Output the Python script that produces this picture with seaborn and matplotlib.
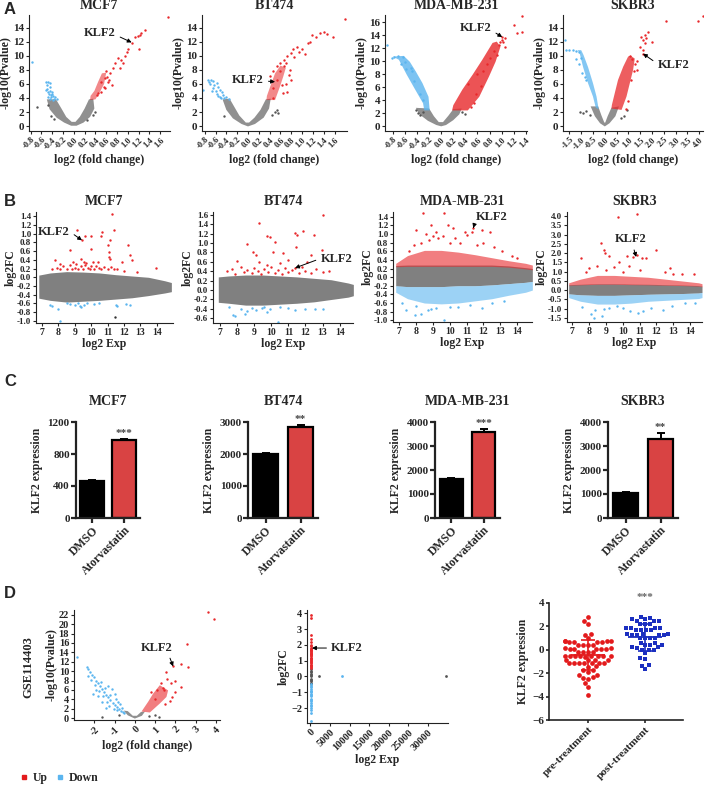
import numpy as np
import pandas as pd
import matplotlib
matplotlib.use('Agg')
import matplotlib.pyplot as plt
import seaborn as sns
from matplotlib.lines import Line2D

W, H = 708, 786
RED = '#e8282b'
BLUE = '#5bb5ef'
GREY = '#555555'
SERIF = ['Liberation Serif', 'DejaVu Serif']

# ---------------- A: volcano plots (log2FC, -log10 P) ----------------
a_titles = ['MCF7', 'BT474', 'MDA-MB-231', 'SKBR3']

mcf7_v_grey_band = [(-0.50, 3.8), (-0.45, 2.4), (-0.32, 1.2), (-0.18, 0.5), (-0.05, 0.05), (0.05, 0.05),
                    (0.18, 0.5), (0.30, 1.3), (0.38, 2.5), (0.36, 3.9), (0.28, 3.8), (0.20, 2.5), (0.11, 1.3),
                    (0.03, 0.6), (-0.04, 0.6), (-0.14, 1.3), (-0.23, 2.5), (-0.33, 3.8)]
mcf7_v_grey = [(-0.69, 2.67), (0.40, 2.0), (0.35, 1.6), (-0.42, 1.5), (-0.36, 1.0), (0.25, 0.8), (-0.48, 3.0)]
mcf7_v_up_band = [(0.30, 3.7), (0.40, 3.8), (0.48, 4.8), (0.56, 6.0), (0.60, 7.6), (0.52, 7.5), (0.45, 6.3),
                  (0.38, 5.0), (0.31, 4.3)]
mcf7_v_up = [(1.75, 15.5), (1.07, 11.8), (1.13, 12.6), (1.19, 12.8), (1.22, 13.0), (1.25, 13.2), (1.31, 13.6),
             (1.21, 10.9), (0.98, 10.6), (1.00, 10.9), (0.94, 9.9), (0.88, 9.4), (0.91, 9.0), (0.82, 9.7),
             (0.76, 9.0), (0.73, 8.2), (0.86, 8.2), (0.67, 7.5), (0.60, 7.8), (0.57, 6.8), (0.64, 6.3),
             (0.70, 5.9), (0.62, 7.0), (0.55, 5.6), (0.50, 6.2), (0.45, 4.7), (0.42, 4.4), (0.51, 4.9),
             (0.57, 5.4), (0.66, 6.6)]
mcf7_v_down = [(-0.78, 9.05), (-0.51, 6.3), (-0.48, 6.2), (-0.44, 6.1), (-0.50, 5.9), (-0.52, 5.1), (-0.48, 4.9),
               (-0.41, 4.9), (-0.45, 5.0), (-0.38, 4.3), (-0.35, 4.1), (-0.42, 4.1), (-0.32, 3.8), (-0.46, 4.5),
               (-0.40, 4.6), (-0.36, 3.9), (-0.44, 3.9), (-0.38, 3.75), (-0.47, 4.2), (-0.43, 4.4),
               (-0.50, 5.3), (-0.45, 5.6)]

bt474_v_grey_band = [(-0.47, 3.8), (-0.40, 2.3), (-0.28, 1.1), (-0.12, 0.3), (0.0, -0.05), (0.13, 0.3),
                     (0.29, 1.2), (0.39, 2.5), (0.42, 3.9), (0.33, 3.8), (0.23, 2.3), (0.12, 1.2), (0.02, 0.5),
                     (-0.04, 0.5), (-0.16, 1.5), (-0.25, 2.7), (-0.34, 3.9)]
bt474_v_grey = [(0.53, 2.3), (0.55, 1.8), (0.45, 1.6), (0.50, 2.0), (-0.45, 1.4)]
bt474_v_up_band = [(0.34, 3.7), (0.50, 3.7), (0.59, 5.6), (0.65, 7.0), (0.70, 8.3), (0.60, 8.6), (0.50, 7.5),
                   (0.41, 5.6), (0.35, 4.3)]
bt474_v_up = [(1.80, 15.3), (1.33, 13.3), (1.18, 13.0), (1.26, 12.7), (1.57, 12.7), (1.40, 13.4), (1.46, 13.1),
              (1.15, 12.0), (1.10, 11.8), (0.90, 11.3), (0.84, 10.9), (0.79, 10.4), (0.72, 9.9), (0.66, 9.4),
              (0.59, 9.0), (0.53, 8.5), (0.66, 8.5), (0.70, 9.0), (0.47, 7.8), (0.59, 7.8), (0.41, 7.1),
              (0.53, 6.6), (0.62, 5.9), (0.47, 5.4), (0.65, 4.7), (0.47, 4.0), (0.75, 7.3), (0.78, 8.0),
              (0.85, 9.8), (0.95, 10.5), (1.00, 11.0), (0.70, 6.0), (0.73, 4.9), (0.80, 6.6), (1.05, 10.2)]
bt474_v_down = [(-0.74, 6.6), (-0.64, 6.4), (-0.58, 6.1), (-0.83, 5.1), (-0.64, 5.4), (-0.52, 5.1), (-0.58, 4.6),
                (-0.46, 4.4), (-0.40, 4.1), (-0.52, 4.1), (-0.35, 3.9), (-0.70, 6.0), (-0.62, 5.8), (-0.55, 5.5),
                (-0.48, 4.8), (-0.44, 3.95), (-0.66, 5.0), (-0.60, 5.0), (-0.56, 4.3), (-0.49, 4.0),
                (-0.72, 6.3), (-0.68, 6.5)]

mda_v_grey_band = [(-0.42, 2.8), (-0.36, 1.8), (-0.22, 0.8), (-0.08, 0.15), (0.0, -0.05), (0.08, 0.15),
                   (0.20, 0.9), (0.30, 1.8), (0.34, 2.7), (0.20, 2.6), (0.12, 1.6), (0.03, 0.6), (-0.04, 0.6),
                   (-0.12, 1.5), (-0.20, 2.7)]
mda_v_grey = [(-0.42, 2.4), (-0.35, 1.7), (-0.30, 2.2), (-0.38, 2.0), (0.35, 2.2), (0.40, 1.9)]
mda_v_up_band = [(0.18, 2.4), (0.44, 2.4), (0.63, 4.5), (0.79, 7.6), (0.90, 9.9), (0.98, 12.2), (0.92, 13.0),
                 (0.85, 12.8), (0.68, 10.2), (0.52, 7.9), (0.35, 5.6), (0.20, 3.2)]
mda_v_up = [(1.34, 16.9), (1.21, 15.5), (1.26, 14.3), (1.34, 14.5), (1.01, 13.7), (1.00, 13.3), (1.03, 13.0),
            (0.98, 12.9), (1.05, 13.5), (0.95, 12.5), (1.06, 12.2), (0.88, 11.5), (0.93, 11.0), (0.75, 9.5),
            (0.80, 10.5), (0.60, 8.0), (0.70, 8.5), (0.45, 6.5), (0.58, 5.0), (0.66, 6.2), (0.50, 3.0),
            (0.55, 3.5)]
mda_v_down_band = [(-0.80, 10.7), (-0.70, 10.2), (-0.57, 7.9), (-0.43, 5.6), (-0.30, 3.5), (-0.28, 2.4),
                   (-0.19, 2.4), (-0.21, 4.5), (-0.31, 6.6), (-0.42, 8.4), (-0.52, 9.9), (-0.62, 10.8)]
mda_v_down = [(-0.90, 12.5), (-0.78, 10.7), (-0.82, 10.5), (-0.72, 10.8), (-0.64, 10.6), (-0.60, 9.9),
              (-0.50, 9.0), (-0.48, 8.5), (-0.66, 9.6), (-0.58, 8.8), (-0.45, 7.0), (-0.35, 5.0), (-0.30, 4.0)]

skbr3_v_grey_band = [(-0.60, 2.8), (-0.42, 1.4), (-0.20, 0.4), (0.0, -0.05), (0.20, 0.4), (0.45, 1.4),
                     (0.60, 2.8), (0.28, 2.6), (0.12, 1.4), (0.02, 0.5), (-0.02, 0.5), (-0.14, 1.5), (-0.28, 2.8)]
skbr3_v_grey = [(-1.06, 2.0), (-0.92, 1.8), (-0.64, 1.6), (-0.78, 2.2), (0.92, 2.3), (0.80, 1.5), (0.70, 1.2)]
skbr3_v_up_band = [(0.28, 2.5), (0.71, 2.3), (0.92, 4.2), (1.06, 6.1), (1.20, 8.0), (1.27, 9.6), (1.10, 10.0),
                   (0.99, 9.9), (0.78, 8.45), (0.56, 6.55), (0.42, 4.65), (0.30, 3.0)]
skbr3_v_up = [(4.15, 15.6), (3.95, 15.0), (2.61, 14.9), (1.62, 10.3), (1.55, 12.7), (1.60, 12.2), (1.69, 11.8),
              (1.76, 12.5), (1.84, 13.4), (1.69, 13.0), (1.98, 12.0), (1.48, 11.3), (1.61, 10.8), (1.38, 9.3),
              (1.30, 8.9), (1.15, 9.6), (1.08, 9.9), (1.25, 7.9), (1.35, 8.0), (1.10, 6.5), (0.90, 2.5),
              (1.00, 3.5)]
skbr3_v_down_band = [(-1.15, 10.8), (-1.06, 10.3), (-0.92, 8.4), (-0.71, 6.1), (-0.50, 4.2), (-0.38, 2.6),
                     (-0.26, 2.4), (-0.35, 4.2), (-0.50, 6.1), (-0.71, 8.4), (-0.90, 10.1), (-1.00, 10.8)]
skbr3_v_down = [(-1.69, 12.2), (-1.65, 10.8), (-1.50, 10.8), (-1.35, 10.8), (-1.20, 10.7), (-1.10, 10.5),
                (-1.00, 9.7), (-1.20, 9.5), (-1.10, 8.8), (-0.95, 7.6), (-0.80, 6.5), (-0.85, 7.0)]

a_xticks = [[-0.8, -0.6, -0.4, -0.2, 0.0, 0.2, 0.4, 0.6, 0.8, 1.0, 1.2, 1.4, 1.6],
            [-0.8, -0.6, -0.4, -0.2, 0.0, 0.2, 0.4, 0.6, 0.8, 1.0, 1.2, 1.4, 1.6],
            [-0.8, -0.6, -0.4, -0.2, 0.0, 0.2, 0.4, 0.6, 0.8, 1.0, 1.2, 1.4],
            [-1.5, -1.0, -0.5, 0.0, 0.5, 1.0, 1.5, 2.0, 2.5, 3.0, 3.5, 4.0]]
a_yticks = [list(range(0, 15, 2)), list(range(0, 15, 2)), list(range(0, 17, 2)), list(range(0, 15, 2))]
a_xlim = [(-0.83, 1.78), (-0.85, 1.83), (-0.93, 1.42), (-1.77, 4.16)]
a_ylim = [(-0.7, 15.8), (-0.7, 15.8), (-0.77, 17.1), (-0.7, 15.8)]
a_klf2_text = [(0.48, 13.3), (0.0, 6.6), (0.57, 15.1), (2.9, 8.7)]
a_klf2_point = [(1.07, 11.9), (0.50, 6.3), (1.01, 13.7), (1.62, 10.3)]
a_band_alpha = [0.55, 0.55, 0.8, 0.75]

# ---------------- B: MA plots (log2 Exp, log2FC) ----------------
mcf7_ma_x = [6.8, 7.5, 8.5, 9.5, 10.5, 11.5, 12.5, 13.5, 14.5, 14.9]
mcf7_ma_top = [0.05, 0.10, 0.13, 0.12, 0.10, 0.06, 0.03, 0.0, -0.08, -0.12]
mcf7_ma_bottom = [-0.48, -0.53, -0.57, -0.55, -0.53, -0.50, -0.47, -0.42, -0.36, -0.33]
mcf7_ma_up = [(11.27, 1.46), (9.13, 1.08), (9.64, 0.96), (10.0, 0.96), (10.66, 1.04), (10.6, 0.96),
              (11.37, 1.08), (11.17, 0.85), (12.28, 0.74), (8.73, 0.62), (10.0, 0.66), (11.04, 0.74),
              (11.07, 0.58), (11.1, 0.47), (11.17, 0.43), (10.4, 0.36), (12.37, 0.51), (12.5, 0.39),
              (13.97, 0.22), (7.81, 0.39), (8.1, 0.31), (9.35, 0.43), (9.55, 0.36), (11.57, 0.2), (11.87, 0.36),
              (9.44, 0.85), (7.6, 0.2), (7.9, 0.22), (8.1, 0.18), (8.3, 0.25), (8.5, 0.2), (8.7, 0.28),
              (8.8, 0.18), (9.0, 0.22), (9.1, 0.3), (9.2, 0.19), (9.4, 0.25), (9.5, 0.2), (9.6, 0.28),
              (9.8, 0.22), (9.9, 0.18), (10.0, 0.25), (10.2, 0.2), (10.3, 0.27), (10.5, 0.22), (10.6, 0.18),
              (10.8, 0.24), (11.0, 0.2), (11.2, 0.23), (11.4, 0.18), (8.9, 0.35), (9.7, 0.33), (10.1, 0.34),
              (12.0, 0.15), (12.8, 0.12)]
mcf7_ma_down = [(7.5, -0.64), (7.6, -0.66), (8.0, -0.73), (8.1, -1.0), (8.5, -0.6), (9.0, -0.63), (9.33, -0.66),
                (9.4, -0.69), (9.2, -0.6), (9.75, -0.6), (10.15, -0.62), (11.5, -0.63), (11.6, -0.67),
                (12.1, -0.61), (12.4, -0.64), (8.7, -0.62), (9.55, -0.64), (10.5, -0.6)]
mcf7_ma_grey = [(11.47, -0.91)]

bt474_ma_x = [6.9, 7.5, 8.5, 9.5, 10.5, 11.5, 12.5, 13.5, 14.5, 14.8]
bt474_ma_top = [0.28, 0.30, 0.32, 0.32, 0.30, 0.28, 0.25, 0.22, 0.15, 0.12]
bt474_ma_bottom = [-0.26, -0.28, -0.32, -0.32, -0.30, -0.28, -0.25, -0.20, -0.15, -0.12]
bt474_ma_up = [(13.0, 1.6), (9.3, 1.43), (9.73, 1.16), (9.9, 1.13), (10.23, 1.02), (8.56, 0.99), (11.39, 1.21),
               (11.5, 1.17), (11.84, 1.25), (12.51, 1.18), (12.94, 0.85), (11.44, 0.92), (12.33, 0.74),
               (8.95, 0.82), (9.1, 0.74), (10.12, 0.82), (9.73, 0.53), (10.7, 0.78), (11.39, 0.47),
               (7.4, 0.4), (7.7, 0.45), (7.9, 0.35), (8.2, 0.5), (8.4, 0.38), (8.6, 0.42), (8.9, 0.36),
               (9.0, 0.48), (9.2, 0.4), (9.4, 0.35), (9.6, 0.44), (9.8, 0.38), (10.0, 0.5), (10.2, 0.36),
               (10.4, 0.42), (10.6, 0.35), (10.8, 0.46), (11.0, 0.38), (11.2, 0.42), (11.6, 0.36), (11.8, 0.5),
               (12.0, 0.4), (12.3, 0.36), (12.6, 0.45), (13.0, 0.38), (13.4, 0.4), (9.3, 0.6), (10.5, 0.58),
               (8.0, 0.62), (11.0, 0.63), (12.1, 0.6)]
bt474_ma_down = [(7.78, -0.53), (7.9, -0.55), (8.46, -0.51), (8.85, -0.39), (9.1, -0.42), (9.44, -0.39),
                 (9.73, -0.46), (9.9, -0.4), (10.51, -0.36), (10.4, -0.67), (11.4, -0.42), (12.0, -0.4),
                 (12.56, -0.4), (8.2, -0.4), (8.6, -0.45), (7.5, -0.36), (9.6, -0.35), (11.0, -0.38),
                 (13.0, -0.4)]
bt474_ma_grey = []

mda_ma_x = [6.8, 7.5, 8.5, 9.5, 10.5, 11.5, 12.5, 13.5, 14.5, 14.9]
mda_ma_top = [0.27, 0.28, 0.28, 0.28, 0.28, 0.28, 0.28, 0.26, 0.22, 0.20]
mda_ma_bottom = [-0.20, -0.22, -0.22, -0.22, -0.20, -0.20, -0.18, -0.15, -0.12, -0.10]
mda_ma_up_edge = [0.32, 0.50, 0.62, 0.62, 0.58, 0.52, 0.45, 0.38, 0.32, 0.28]
mda_ma_down_edge = [-0.35, -0.50, -0.60, -0.62, -0.60, -0.55, -0.50, -0.42, -0.35, -0.30]
mda_ma_up = [(8.43, 1.48), (9.68, 1.48), (9.88, 1.21), (11.0, 0.97), (11.3, 1.05), (11.9, 1.1), (12.4, 1.05),
             (10.9, 1.05), (11.4, 1.14), (8.0, 1.1), (8.6, 1.0), (9.0, 0.95), (9.3, 0.9), (8.8, 0.85),
             (9.6, 0.95), (10.3, 0.9), (10.6, 0.8), (8.3, 0.8), (7.9, 0.75), (12.0, 0.8), (12.6, 0.7),
             (13.1, 0.6), (13.7, 0.5), (14.0, 0.45), (7.6, 0.6), (10.0, 0.78), (11.6, 0.75), (9.2, 1.05),
             (8.9, 1.2), (10.2, 1.15)]
mda_ma_down = [(7.44, -0.77), (8.73, -0.77), (8.9, -0.75), (7.93, -0.88), (8.3, -0.86), (9.64, -1.0),
               (11.9, -0.72), (10.5, -0.7), (9.2, -0.72), (12.5, -0.6), (13.2, -0.55), (7.2, -0.6), (8.0, -0.68),
               (10.0, -0.7), (11.2, -0.65)]

skbr3_ma_x = [6.8, 7.5, 8.5, 9.5, 10.5, 11.5, 12.5, 13.5, 14.5, 14.7]
skbr3_ma_top = [0.30, 0.32, 0.35, 0.35, 0.33, 0.32, 0.30, 0.28, 0.25, 0.22]
skbr3_ma_bottom = [-0.20, -0.25, -0.28, -0.28, -0.25, -0.22, -0.20, -0.18, -0.15, -0.12]
skbr3_ma_up_edge = [0.40, 0.60, 0.80, 0.80, 0.75, 0.70, 0.60, 0.50, 0.40, 0.35]
skbr3_ma_down_edge = [-0.40, -0.60, -0.75, -0.75, -0.70, -0.60, -0.55, -0.50, -0.45, -0.40]
skbr3_ma_up = [(9.72, 3.96), (10.84, 4.1), (8.72, 2.58), (8.87, 2.17), (8.95, 2.0), (9.2, 1.84), (7.5, 1.73),
               (10.25, 1.84), (10.84, 1.93), (11.13, 1.72), (11.4, 1.72), (12.0, 2.17), (10.6, 1.8),
               (8.0, 1.2), (8.5, 1.3), (9.0, 1.1), (9.5, 1.25), (10.0, 1.0), (11.0, 1.1), (12.5, 1.0),
               (13.0, 0.9), (13.5, 0.85), (14.2, 0.9), (7.8, 1.0), (9.8, 1.5), (12.8, 1.2), (10.4, 1.3)]
skbr3_ma_down = [(8.28, -1.5), (8.1, -1.3), (8.37, -1.05), (8.9, -1.0), (9.65, -0.86), (10.43, -1.15),
                 (10.9, -1.24), (11.2, -1.1), (11.7, -0.97), (12.4, -1.05), (13.68, -0.68), (8.8, -1.4),
                 (7.6, -0.9), (9.2, -0.95), (10.0, -0.95), (12.9, -0.85), (14.3, -0.7)]

b_yticks = [[-1.0, -0.8, -0.6, -0.4, -0.2, 0.0, 0.2, 0.4, 0.6, 0.8, 1.0, 1.2, 1.4],
            [-0.6, -0.4, -0.2, 0.0, 0.2, 0.4, 0.6, 0.8, 1.0, 1.2, 1.4, 1.6],
            [-1.0, -0.8, -0.6, -0.4, -0.2, 0.0, 0.2, 0.4, 0.6, 0.8, 1.0, 1.2, 1.4],
            [-1.5, -1.0, -0.5, 0.0, 0.5, 1.0, 1.5, 2.0, 2.5, 3.0, 3.5, 4.0]]
b_xticks = [7, 8, 9, 10, 11, 12, 13, 14]
b_xlim = [(6.63, 15.0), (6.59, 14.78), (6.64, 14.88), (6.7, 14.7)]
b_ylim = [(-1.05, 1.5), (-0.7, 1.66), (-1.04, 1.51), (-1.72, 4.23)]
b_klf2_text = [(6.75, 1.05), (13.8, 0.67), (12.5, 1.4), (10.5, 2.75)]
b_klf2_point = [(9.44, 0.85), (11.39, 0.47), (11.4, 1.14), (10.8, 1.8)]

# ---------------- C: KLF2 expression bars ----------------
c_groups = ['DMSO', 'Atorvastatin']
c_mean = [[460, 975], [2000, 2840], [1620, 3590], [1040, 3280]]
c_err = [[12, 12], [30, 60], [40, 100], [30, 260]]
c_stars = ['***', '**', '***', '**']
c_yticks = [[0, 400, 800, 1200], [0, 1000, 2000, 3000], [0, 1000, 2000, 3000, 4000], [0, 1000, 2000, 3000, 4000]]

# ---------------- D: GSE114403 ----------------
gse_v_grey_band = [(-0.55, 1.6), (-0.35, 0.6), (0.0, -0.1), (0.35, 0.5), (0.50, 1.4), (0.30, 1.3), (0.10, 0.5),
                   (-0.10, 0.5), (-0.35, 1.5)]
gse_v_grey = [(-1.64, 0.34), (0.98, 0.7), (1.2, 0.3), (-0.8, 0.6), (0.7, 0.4)]
gse_v_up_band = [(0.33, 1.4), (0.74, 1.2), (1.23, 3.1), (1.56, 4.5), (1.64, 5.9), (1.23, 7.0), (0.90, 5.2),
                 (0.66, 3.5)]
gse_v_up = [(3.61, 22.5), (3.91, 21.1), (2.55, 15.7), (2.3, 11.5), (2.63, 10.8), (1.89, 11.0), (1.55, 9.8),
            (2.3, 6.6), (1.97, 8.0), (1.6, 8.4), (1.8, 7.5), (1.72, 3.7), (1.4, 6.5), (1.1, 6.0), (1.3, 7.5),
            (1.85, 4.5), (2.0, 5.5), (1.5, 3.0), (1.45, 6.0), (0.8, 5.5), (1.0, 4.0)]
gse_v_down = [(-2.87, 13.1), (-2.38, 10.8), (-2.30, 10.4), (-2.20, 9.8), (-2.10, 9.2), (-2.0, 8.8), (-2.15, 8.2),
              (-1.9, 8.0), (-1.8, 7.4), (-1.95, 7.0), (-1.7, 6.8), (-1.6, 6.2), (-1.75, 5.8), (-1.5, 5.6),
              (-1.4, 5.0), (-1.55, 4.6), (-1.3, 4.4), (-1.2, 3.8), (-1.35, 3.4), (-1.1, 3.2), (-1.0, 2.8),
              (-0.9, 2.4), (-1.05, 2.0), (-0.8, 2.0), (-0.7, 1.6), (-0.6, 1.4), (-0.55, 1.1), (-1.6, 3.4),
              (-1.2, 5.0), (-0.95, 4.0), (-1.45, 6.4), (-2.05, 5.2), (-1.8, 4.6), (-0.75, 3.0), (-1.25, 2.6),
              (-0.85, 3.4), (-1.65, 7.6), (-1.15, 6.2), (-2.3, 9.0), (-1.0, 5.2), (-0.65, 2.2), (-1.4, 2.2),
              (-1.9, 6.0), (-1.3, 6.8), (-0.9, 1.8)]

gse_ma_up = [(80, 0.55), (250, 0.7), (150, 0.85), (300, 1.0), (120, 1.1), (200, 1.2), (90, 1.3), (260, 1.4),
             (170, 1.5), (60, 1.6), (220, 1.7), (140, 1.8), (100, 1.9), (280, 2.0), (150, 2.2), (200, 2.4),
             (120, 2.6), (160, 3.7), (180, 3.9), (230, 0.6), (70, 0.9), (240, 1.15), (190, 1.35), (110, 1.55),
             (260, 1.75), (130, 0.75), (60, 1.05), (210, 1.45), (160, 1.65), (90, 0.65)]
gse_ma_grey = [(120, -0.45), (200, -0.3), (90, -0.15), (150, 0.0), (240, 0.15), (100, 0.3), (180, 0.45),
               (60, -0.4), (260, -0.2), (130, 0.1), (210, 0.35), (2100, 0.0), (34700, 0.0)]
gse_ma_down = [(100, -0.5), (220, -0.65), (150, -0.8), (80, -0.95), (250, -1.1), (130, -1.25), (190, -1.4),
               (70, -1.55), (230, -1.7), (110, -1.85), (170, -2.0), (260, -2.15), (140, -2.3), (120, -2.8),
               (200, -0.6), (90, -0.9), (160, -1.2), (240, -1.5), (60, -1.8), (210, -1.0), (8050, 0.0)]

pre_treatment = [2.77, 2.49, 2.20, 1.34, 1.30, 1.00, 0.74, 0.72, 0.70, 0.71, 0.69, 0.73, 0.70, 0.68, 0.45, 0.43,
                 0.40, 0.44, 0.12, 0.10, 0.08, 0.11, 0.09, 0.10, 0.13, -0.18, -0.20, -0.22, -0.19, -0.52, -0.55,
                 -0.57, -0.54, -0.56, -0.53, -0.58, -0.55, -0.51, -0.85, -0.83, -0.88, -0.86, -1.12, -1.14,
                 -1.15, -1.13, -1.16, -1.12, -1.14, -1.43, -1.40, -1.70, -1.72, -1.86, -2.14, -2.12, -2.37,
                 -2.35, -2.49, -2.86, -3.20, -3.86]
post_treatment = [2.77, 2.75, 2.66, 2.64, 2.49, 2.50, 2.47, 2.20, 2.22, 2.18, 1.86, 1.88, 1.85, 1.84, 1.70, 1.72,
                  1.68, 1.71, 1.34, 1.33, 1.35, 1.29, 1.28, 1.30, 1.27, 1.00, 1.02, 0.98, 1.01, 0.57, 0.55, 0.43,
                  0.45, 0.42, 0.20, 0.22, 0.18, 0.00, 0.02, -0.02, -0.29, -0.71, -0.77, -1.34, -1.36, -1.63]
d_groups = ['pre-treatment', 'post-treatment']


# ---------------- helpers ----------------
def px_axes(fig, l, t, r, b):
    return fig.add_axes([l / W, 1 - b / H, (r - l) / W, (b - t) / H])


def style_axes(ax, lw=0.8, size=7):
    sns.despine(ax=ax)
    for s in ('left', 'bottom'):
        ax.spines[s].set_linewidth(lw)
        ax.spines[s].set_color('#222222')
    ax.tick_params(labelsize=size, width=lw, length=2.5, pad=1)
    for lab in ax.get_xticklabels() + ax.get_yticklabels():
        lab.set_fontweight('bold')


def cloud(ax, pts, color, s=3, band=None, alpha=0.6):
    if band:
        bx, by = zip(*band)
        ax.fill(bx, by, color=color, lw=0, alpha=alpha, zorder=1)
    if pts:
        px, py = zip(*pts)
        sns.scatterplot(x=list(px), y=list(py), color=color, s=s, linewidth=0, ax=ax, zorder=2)


def klf2(ax, text_xy, point_xy, relpos, size=9):
    ax.annotate('KLF2', xy=point_xy, xytext=text_xy, ha='center', va='center', fontsize=size,
                fontweight='bold', arrowprops=dict(arrowstyle='-|>', color='black', lw=0.7,
                                                   mutation_scale=6, shrinkA=1, shrinkB=0, relpos=relpos))


sns.set_style('ticks')
plt.rcParams['font.family'] = SERIF
plt.rcParams['font.weight'] = 'bold'
plt.rcParams['axes.labelweight'] = 'bold'
plt.rcParams['axes.titleweight'] = 'bold'

fig = plt.figure(figsize=(W / 100, H / 100), dpi=100)

# ---- row A ----
a_boxes = [(29, 15, 170, 131), (202, 15, 347, 131), (385, 15, 527, 131), (563, 15, 703, 131)]
a_sets = [(mcf7_v_grey_band, mcf7_v_grey, mcf7_v_up_band, mcf7_v_up, None, mcf7_v_down),
          (bt474_v_grey_band, bt474_v_grey, bt474_v_up_band, bt474_v_up, None, bt474_v_down),
          (mda_v_grey_band, mda_v_grey, mda_v_up_band, mda_v_up, mda_v_down_band, mda_v_down),
          (skbr3_v_grey_band, skbr3_v_grey, skbr3_v_up_band, skbr3_v_up, skbr3_v_down_band, skbr3_v_down)]
a_relpos = [(1, 0.3), (1, 0.4), (1, 0.3), (0, 0.6)]
for i, box in enumerate(a_boxes):
    ax = px_axes(fig, *box)
    gb, gp, ub, up, db, dp = a_sets[i]
    al = a_band_alpha[i]
    cloud(ax, gp, GREY, band=gb, alpha=0.65)
    cloud(ax, up, RED, band=ub, alpha=al)
    cloud(ax, dp, BLUE, band=db, alpha=al)
    ax.set_xlim(a_xlim[i])
    ax.set_ylim(a_ylim[i])
    ax.set_xticks(a_xticks[i])
    ax.set_xticklabels([f'{v:.1f}' for v in a_xticks[i]], rotation=45, ha='right', rotation_mode='anchor')
    ax.set_yticks(a_yticks[i])
    style_axes(ax, size=8)
    for lab in ax.get_xticklabels():
        lab.set_fontsize(6)
    ax.set_title(a_titles[i], fontsize=10, pad=4)
    ax.set_xlabel('log2 (fold change)', fontsize=8.5, labelpad=2)
    ax.set_ylabel('-log10(Pvalue)', fontsize=8.5, labelpad=1)
    klf2(ax, a_klf2_text[i], a_klf2_point[i], a_relpos[i])

# ---- row B ----
b_boxes = [(36, 212, 173, 323), (213, 212, 353, 323), (393, 212, 532, 322), (567, 212, 702, 322)]
b_sets = [(mcf7_ma_x, mcf7_ma_bottom, mcf7_ma_top, None, None, mcf7_ma_up, mcf7_ma_down, mcf7_ma_grey),
          (bt474_ma_x, bt474_ma_bottom, bt474_ma_top, None, None, bt474_ma_up, bt474_ma_down, bt474_ma_grey),
          (mda_ma_x, mda_ma_bottom, mda_ma_top, mda_ma_up_edge, mda_ma_down_edge, mda_ma_up, mda_ma_down, []),
          (skbr3_ma_x, skbr3_ma_bottom, skbr3_ma_top, skbr3_ma_up_edge, skbr3_ma_down_edge, skbr3_ma_up,
           skbr3_ma_down, [])]
b_relpos = [(1, 0.5), (0, 0.5), (0, 0.3), (0.55, 0)]
for i, box in enumerate(b_boxes):
    ax = px_axes(fig, *box)
    x, lo, hi, up_edge, dn_edge, up, dn, gp = b_sets[i]
    ax.fill_between(x, lo, hi, color='#6a6a6a', lw=0, alpha=0.85, zorder=1)
    if up_edge:
        ax.fill_between(x, [v - 0.03 for v in hi], up_edge, color=RED, lw=0, alpha=0.6, zorder=1.5)
    if dn_edge:
        ax.fill_between(x, dn_edge, lo, color=BLUE, lw=0, alpha=0.6, zorder=1.5)
    cloud(ax, up, RED)
    cloud(ax, dn, BLUE)
    cloud(ax, gp, '#333333')
    ax.set_xlim(b_xlim[i])
    ax.set_ylim(b_ylim[i])
    ax.set_xticks(b_xticks)
    ax.set_yticks(b_yticks[i])
    ax.set_yticklabels([f'{v:.1f}' for v in b_yticks[i]])
    style_axes(ax, size=7)
    for lab in ax.get_yticklabels():
        lab.set_fontsize(6.5)
    ax.set_title(a_titles[i], fontsize=10, pad=5)
    ax.set_xlabel('log2 Exp', fontsize=8.5, labelpad=1)
    ax.set_ylabel('log2FC', fontsize=8.5, labelpad=0)
    klf2(ax, b_klf2_text[i], b_klf2_point[i], b_relpos[i])
    if i == 0:
        ax.texts[-1].set_ha('left')

# ---- row C ----
c_boxes = [(76, 422, 140, 518), (248, 422, 318, 518), (435, 422, 500, 518), (608, 422, 678, 518)]
for i, box in enumerate(c_boxes):
    ax = px_axes(fig, *box)
    df = pd.DataFrame({'group': c_groups, 'value': c_mean[i]})
    sns.barplot(data=df, x='group', y='value', hue='group', palette=['black', '#d94343'], saturation=1,
                width=0.72, edgecolor='black', linewidth=1.6, legend=False, ax=ax)
    ax.errorbar([0, 1], c_mean[i], yerr=[[0, 0], c_err[i]], fmt='none', ecolor='black',
                elinewidth=1.4, capsize=3, capthick=1.4)
    ax.annotate(c_stars[i], xy=(1, c_mean[i][1] + c_err[i][1]), xytext=(0, 1),
                textcoords='offset points', ha='center', va='bottom', fontsize=8, color='#444444',
                annotation_clip=False)
    ax.set_xlim(-0.5, 1.5)
    ax.set_ylim(0, c_yticks[i][-1])
    ax.set_yticks(c_yticks[i])
    style_axes(ax, lw=1.6, size=8)
    ax.tick_params(length=3.5)
    ax.set_xticks([0, 1])
    ax.set_xticklabels(c_groups, rotation=45, ha='right', rotation_mode='anchor', fontsize=8.5)
    ax.set_xlabel('')
    ax.set_ylabel('KLF2 expression', fontsize=8.5, labelpad=3)
    ax.set_title(a_titles[i], fontsize=10, pad=12)

# ---- row D ----
ax = px_axes(fig, 74, 610, 220, 720)
cloud(ax, gse_v_grey, GREY, band=gse_v_grey_band, alpha=0.65)
cloud(ax, gse_v_up, RED, band=gse_v_up_band, alpha=0.6)
cloud(ax, gse_v_down, BLUE)
ax.set_xlim(-3.0, 4.2)
ax.set_ylim(-0.4, 23.0)
ax.set_xticks([-2, -1, 0, 1, 2, 3, 4])
ax.set_xticklabels(['-2', '-1', '0', '1', '2', '3', '4'], rotation=45, ha='right', rotation_mode='anchor')
ax.set_yticks(list(range(0, 23, 2)))
style_axes(ax, size=7.5)
ax.set_xlabel('log2 (fold change)', fontsize=8.5, labelpad=2)
ax.set_ylabel('-log10(Pvalue)', fontsize=8.5, labelpad=1)
klf2(ax, (1.1, 15.0), (1.89, 11.0), (0.85, 0))
fig.text(28 / W, 1 - 667 / H, 'GSE114403', rotation=90, ha='center', va='center', fontsize=9,
         fontweight='bold')

ax = px_axes(fig, 307, 610, 448, 723)
cloud(ax, gse_ma_grey, GREY, s=4)
cloud(ax, gse_ma_up, RED, s=4)
cloud(ax, gse_ma_down, BLUE, s=4)
ax.set_xlim(-840, 35100)
ax.set_ylim(-2.95, 4.21)
ax.set_xticks([0, 5000, 10000, 15000, 20000, 25000, 30000])
ax.set_xticklabels(['0', '5000', '10000', '15000', '20000', '25000', '30000'], rotation=45, ha='right',
                   rotation_mode='anchor')
ax.set_yticks([-2, -1, 0, 1, 2, 3, 4])
style_axes(ax, size=7.5)
ax.set_xlabel('log2 Exp', fontsize=8.5, labelpad=1)
ax.set_ylabel('log2FC', fontsize=8.5, labelpad=1)
ax.annotate('KLF2', xy=(430, 1.8), xytext=(5300, 1.8), ha='left', va='center', fontsize=9,
            fontweight='bold', arrowprops=dict(arrowstyle='-|>', color='black', lw=0.7, mutation_scale=6,
                                               shrinkA=1, shrinkB=0, relpos=(0, 0.5)))

ax = px_axes(fig, 549, 603, 683, 720)
dd = pd.DataFrame({'group': [d_groups[0]] * len(pre_treatment) + [d_groups[1]] * len(post_treatment),
                   'value': pre_treatment + post_treatment})
sns.swarmplot(data=dd[dd.group == d_groups[0]], x='group', y='value', order=d_groups, color='#e31a1c',
              marker='o', size=3.4, linewidth=0, ax=ax)
sns.swarmplot(data=dd[dd.group == d_groups[1]], x='group', y='value', order=d_groups, color='#1b2fc0',
              marker='s', size=3.4, linewidth=0, ax=ax)
for k, (vals, col) in enumerate([(pre_treatment, '#e31a1c'), (post_treatment, '#1b2fc0')]):
    m, sd = np.mean(vals), np.std(vals, ddof=1)
    ax.hlines(m, k - 0.3, k + 0.3, color=col, lw=1.3, zorder=5)
    ax.errorbar([k], [m], yerr=[sd], fmt='none', ecolor=col, elinewidth=1.2, capsize=5, capthick=1.2,
                zorder=5)
ax.text(1, 4.05, '***', ha='center', va='bottom', fontsize=8, color='#666666')
ax.set_xlim(-0.68, 1.66)
ax.set_ylim(-6, 4)
ax.set_yticks([-6, -4, -2, 0, 2, 4])
style_axes(ax, lw=1.2, size=8)
ax.set_xticks([0, 1])
ax.set_xticklabels(d_groups, rotation=45, ha='right', rotation_mode='anchor', fontsize=8)
ax.set_xlabel('')
ax.set_ylabel('KLF2 expression', fontsize=8.5, labelpad=2)

# ---- panel letters and legend ----
for letter, y in [('A', 9), ('B', 202), ('C', 381), ('D', 593)]:
    fig.text(4 / W, 1 - y / H, letter, ha='left', va='center', fontsize=12, fontweight='bold',
             family=['Liberation Sans', 'DejaVu Sans'])

handles = [Line2D([], [], marker='s', ls='', color='#e31a1c', markersize=3, label='Up'),
           Line2D([], [], marker='s', ls='', color=BLUE, markersize=3, label='Down')]
fig.legend(handles=handles, loc='center left', bbox_to_anchor=(10 / W, 1 - 778 / H), ncol=2, frameon=False,
           fontsize=8.5, handlelength=0.6, handletextpad=0.4, columnspacing=0.8)

fig.savefig('out.png', dpi=100, facecolor='white')
